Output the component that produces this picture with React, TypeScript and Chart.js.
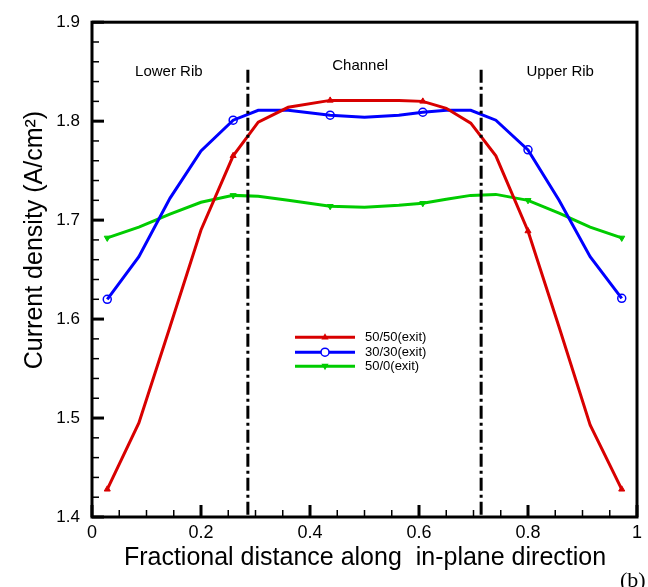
import React, { useEffect, useRef } from "react";
import { Chart, registerables } from "chart.js";

Chart.register(...registerables);

// ---- data ----
const xPositions = [0.028, 0.086, 0.143, 0.2, 0.259, 0.305, 0.36, 0.437, 0.5, 0.563, 0.607, 0.65, 0.695, 0.741, 0.8, 0.857, 0.914, 0.972];
const exit5050 = [1.428, 1.495, 1.592, 1.69, 1.765, 1.799, 1.814, 1.821, 1.821, 1.821, 1.82, 1.813, 1.798, 1.765, 1.689, 1.592, 1.493, 1.428];
const exit3030 = [1.62, 1.663, 1.722, 1.77, 1.801, 1.811, 1.811, 1.806, 1.804, 1.806, 1.809, 1.811, 1.811, 1.801, 1.771, 1.72, 1.663, 1.621];
const exit500 = [1.682, 1.693, 1.706, 1.718, 1.725, 1.724, 1.72, 1.714, 1.713, 1.715, 1.717, 1.721, 1.725, 1.726, 1.72, 1.707, 1.693, 1.682];
const markerPositions = [0.028, 0.259, 0.437, 0.607, 0.8, 0.972];
const seriesLabels = ["50/50(exit)", "30/30(exit)", "50/0(exit)"];
const ribBoundaries = [0.286, 0.714];
const regionLabels = ["Lower Rib", "Channel", "Upper Rib"];
const xTickValues = [0, 0.2, 0.4, 0.6, 0.8, 1];
const yTickValues = [1.4, 1.5, 1.6, 1.7, 1.8, 1.9];
const xTitle = "Fractional distance along  in-plane direction";
const yTitle = "Current density (A/cm\u00B2)";

const RED = "#d80000";
const BLUE = "#0000ff";
const GREEN = "#00cc00";
const SANS = "'Liberation Sans', Arial, Helvetica, sans-serif";

const pts = (vals: number[]) => xPositions.map((x, i) => ({ x, y: vals[i] }));
const isMarker = (ctx: any) => markerPositions.includes(xPositions[ctx.dataIndex]);

function drawMarker(ctx: CanvasRenderingContext2D, kind: string, cx: number, cy: number, color: string) {
  ctx.save();
  ctx.fillStyle = color;
  ctx.strokeStyle = color;
  ctx.lineWidth = 1.5;
  const r = 4;
  if (kind === "circle") {
    ctx.beginPath();
    ctx.arc(cx, cy, r, 0, Math.PI * 2);
    ctx.fillStyle = "#fff";
    ctx.fill();
    ctx.stroke();
  } else {
    const dir = kind === "down" ? -1 : 1;
    ctx.beginPath();
    ctx.moveTo(cx, cy - dir * r);
    ctx.lineTo(cx + r * 0.9, cy + dir * r * 0.6);
    ctx.lineTo(cx - r * 0.9, cy + dir * r * 0.6);
    ctx.closePath();
    ctx.fill();
  }
  ctx.restore();
}

const decorPlugin = {
  id: "decor",
  afterDatasetsDraw(chart: any) {
    const { ctx, chartArea: a, scales } = chart;
    const xs = scales.x;
    const ys = scales.y;
    ctx.save();
    // dash-dot rib boundaries
    ctx.strokeStyle = "#000";
    ctx.lineWidth = 3;
    ctx.setLineDash([13, 4, 3, 4]);
    ribBoundaries.forEach((v) => {
      const px = xs.getPixelForValue(v);
      ctx.beginPath();
      ctx.moveTo(px, ys.getPixelForValue(1.852));
      ctx.lineTo(px, a.bottom);
      ctx.stroke();
    });
    ctx.setLineDash([]);

    // inward ticks
    for (let i = 0; i <= 20; i++) {
      const v = i * 0.05;
      const px = xs.getPixelForValue(v);
      const major = i % 4 === 0;
      ctx.lineWidth = major ? 3 : 1.5;
      ctx.beginPath();
      ctx.moveTo(px, a.bottom);
      ctx.lineTo(px, a.bottom - (major ? 12 : 7));
      ctx.stroke();
    }
    for (let i = 0; i <= 25; i++) {
      const v = 1.4 + i * 0.02;
      const py = ys.getPixelForValue(v);
      const major = i % 5 === 0;
      ctx.lineWidth = major ? 3 : 1.5;
      ctx.beginPath();
      ctx.moveTo(a.left, py);
      ctx.lineTo(a.left + (major ? 12 : 7), py);
      ctx.stroke();
    }
    // frame
    ctx.lineWidth = 3;
    ctx.strokeRect(a.left, a.top, a.right - a.left, a.bottom - a.top);

    // region labels
    ctx.fillStyle = "#000";
    ctx.font = `15px ${SANS}`;
    ctx.textAlign = "center";
    ctx.textBaseline = "middle";
    ctx.fillText(regionLabels[0], xs.getPixelForValue(0.141), ys.getPixelForValue(1.85));
    ctx.fillText(regionLabels[1], xs.getPixelForValue(0.492), ys.getPixelForValue(1.856));
    ctx.fillText(regionLabels[2], xs.getPixelForValue(0.859), ys.getPixelForValue(1.85));

    // legend
    const colors = [RED, BLUE, GREEN];
    const kinds = ["up", "circle", "down"];
    const lx0 = a.left + 203;
    const lx1 = a.left + 263;
    const rows = [a.top + 315, a.top + 330, a.top + 344];
    ctx.font = `13px ${SANS}`;
    ctx.textAlign = "left";
    rows.forEach((ry, i) => {
      ctx.strokeStyle = colors[i];
      ctx.lineWidth = 3;
      ctx.beginPath();
      ctx.moveTo(lx0, ry);
      ctx.lineTo(lx1, ry);
      ctx.stroke();
      drawMarker(ctx, kinds[i], (lx0 + lx1) / 2, ry, colors[i]);
      ctx.fillStyle = "#000";
      ctx.fillText(seriesLabels[i], lx1 + 10, ry);
    });

    // axis titles
    ctx.font = `25px ${SANS}`;
    ctx.textAlign = "center";
    ctx.textBaseline = "middle";
    ctx.fillText(xTitle, 365, 558);
    ctx.save();
    ctx.translate(35, 240);
    ctx.rotate(-Math.PI / 2);
    ctx.fillText(yTitle, 0, 0);
    ctx.restore();

    // panel label
    ctx.font = `22px 'Liberation Serif', 'DejaVu Serif', serif`;
    ctx.textAlign = "left";
    ctx.textBaseline = "alphabetic";
    ctx.fillText("(b)", 620, 587);
    ctx.restore();
  },
};

export default function App() {
  const canvasRef = useRef<HTMLCanvasElement | null>(null);

  useEffect(() => {
    const canvas = canvasRef.current;
    if (!canvas) return;
    const chart = new Chart(canvas, {
      type: "line",
      data: {
        datasets: [
          {
            label: seriesLabels[0],
            data: pts(exit5050),
            borderColor: RED,
            backgroundColor: RED,
            borderWidth: 3,
            pointStyle: "triangle",
            pointRadius: (c: any) => (isMarker(c) ? 3.5 : 0),
            pointBorderWidth: 1,
            tension: 0,
          },
          {
            label: seriesLabels[1],
            data: pts(exit3030),
            borderColor: BLUE,
            backgroundColor: "rgba(255,255,255,0)",
            borderWidth: 3,
            pointStyle: "circle",
            pointRadius: (c: any) => (isMarker(c) ? 4 : 0),
            pointBorderWidth: 1.5,
            tension: 0,
          },
          {
            label: seriesLabels[2],
            data: pts(exit500),
            borderColor: GREEN,
            backgroundColor: GREEN,
            borderWidth: 3,
            pointStyle: "triangle",
            rotation: 180,
            pointRadius: (c: any) => (isMarker(c) ? 3.5 : 0),
            pointBorderWidth: 1,
            tension: 0,
          },
        ],
      },
      options: {
        responsive: false,
        animation: false,
        layout: { padding: { top: 19, right: 11, left: 0, bottom: 0 } },
        plugins: { legend: { display: false }, tooltip: { enabled: false } },
        scales: {
          x: {
            type: "linear",
            min: 0,
            max: 1,
            afterFit: (s: any) => {
              s.height = 70;
            },
            afterBuildTicks: (s: any) => {
              s.ticks = xTickValues.map((v) => ({ value: v }));
            },
            ticks: {
              padding: 5,
              color: "#000",
              font: { family: SANS, size: 18 },
              maxRotation: 0,
              callback: (v: any) => String(Number(v)),
            },
            grid: { display: false, drawTicks: false },
            border: { display: false },
          },
          y: {
            type: "linear",
            min: 1.4,
            max: 1.9,
            afterFit: (s: any) => {
              s.width = 92;
            },
            afterBuildTicks: (s: any) => {
              s.ticks = yTickValues.map((v) => ({ value: v }));
            },
            ticks: {
              padding: 12,
              color: "#000",
              font: { family: SANS, size: 17 },
              callback: (v: any) => Number(v).toFixed(1),
            },
            grid: { display: false, drawTicks: false },
            border: { display: false },
          },
        },
      },
      plugins: [decorPlugin],
    });
    return () => chart.destroy();
  }, []);

  return (
    <div style={{ position: "fixed", left: 0, top: 0, width: 648, height: 587, background: "#fff" }}>
      <canvas ref={canvasRef} width={648} height={587} style={{ display: "block" }} />
    </div>
  );
}
